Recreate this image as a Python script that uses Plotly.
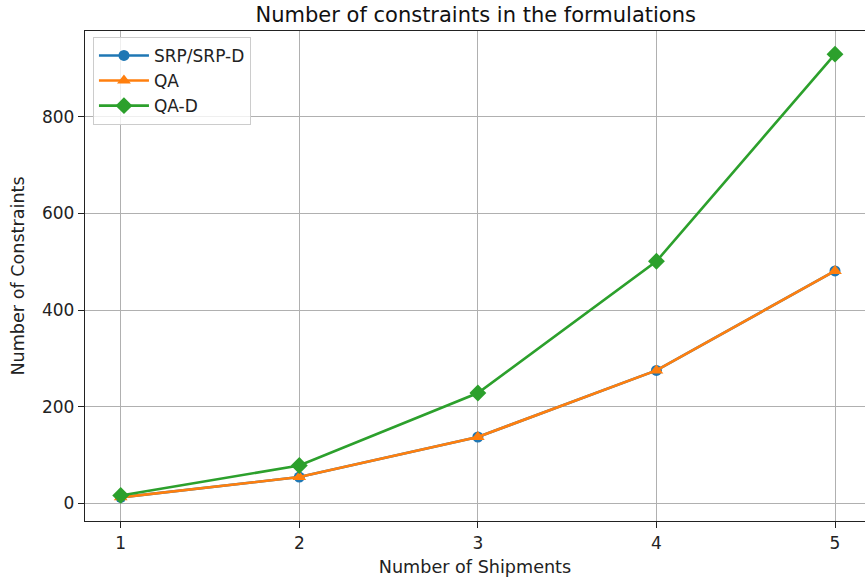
import plotly.graph_objects as go

shipments = [1, 2, 3, 4, 5]
srp = [12, 54, 137, 275, 481]
qa = [12, 54, 137, 275, 481]
qa_d = [16, 78, 228, 501, 930]
y_ticks = [0, 200, 400, 600, 800]

fig = go.Figure()
fig.add_trace(go.Scatter(x=shipments, y=srp, name="SRP/SRP-D", mode="lines+markers",
                         line=dict(color="#1f77b4", width=2.6),
                         marker=dict(symbol="circle", size=11, color="#1f77b4")))
fig.add_trace(go.Scatter(x=shipments, y=qa, name="QA", mode="lines+markers",
                         line=dict(color="#ff7f0e", width=2.6),
                         marker=dict(symbol="triangle-up", size=12, color="#ff7f0e")))
fig.add_trace(go.Scatter(x=shipments, y=qa_d, name="QA-D", mode="lines+markers",
                         line=dict(color="#2ca02c", width=2.6),
                         marker=dict(symbol="diamond", size=13, color="#2ca02c")))

fig.update_layout(
    width=865, height=580,
    margin=dict(l=85, r=0, t=31, b=59, autoexpand=False),
    paper_bgcolor="white", plot_bgcolor="white",
    font=dict(family="DejaVu Sans", size=17, color="#222"),
    title=dict(text="Number of constraints in the formulations", x=0.55, xanchor="center",
               y=1 - 15 / 580, yanchor="middle", font=dict(size=21, color="#111"), automargin=False),
    showlegend=True,
    legend=dict(x=0.0102, y=0.988, xanchor="left", yanchor="top",
                bgcolor="rgba(255,255,255,0.8)", bordercolor="#cccccc", borderwidth=1,
                font=dict(size=17), itemwidth=50, tracegroupgap=0),
    xaxis=dict(range=[0.8, 5.168], tickvals=shipments, ticktext=[str(s) for s in shipments],
               showgrid=True, gridcolor="#b0b0b0", gridwidth=1.3, automargin=False,
               showline=True, linecolor="#222", linewidth=1.4, mirror=True,
               ticks="outside", ticklen=6, tickcolor="#222", zeroline=False,
               title=dict(text="Number of Shipments", font=dict(size=17.6), standoff=9)),
    yaxis=dict(range=[-37, 978], tickvals=y_ticks, automargin=False,
               showgrid=True, gridcolor="#b0b0b0", gridwidth=1.3,
               showline=True, linecolor="#222", linewidth=1.4,
               ticks="outside", ticklen=6, tickcolor="#222", zeroline=False,
               title=dict(text="Number of Constraints", font=dict(size=17.6), standoff=12)),
)

fig.write_html("out.html", config={"displayModeBar": False},
               post_script="document.body.style.margin='0';document.body.style.overflow='hidden';")
